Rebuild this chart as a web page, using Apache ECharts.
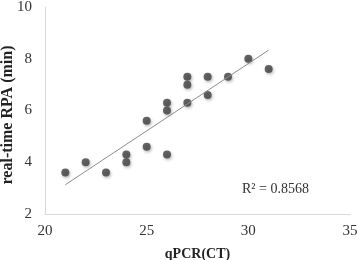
<!DOCTYPE html>
<html><head><meta charset="utf-8">
<script src="https://cdn.jsdelivr.net/npm/echarts@6/dist/echarts.min.js"></script>
<style>html,body{margin:0;padding:0;background:#fff}#c{width:358px;height:260px}</style>
</head><body><div id="c"></div>
<script>
var xValues = [21, 22, 23, 24, 24, 25, 25, 26, 26, 26, 27, 27, 27, 28, 28, 29, 30, 31];
var yValues = [3.6, 4.0, 3.6, 4.3, 4.0, 5.6, 4.6, 6.3, 6.0, 4.3, 7.3, 7.0, 6.3, 7.3, 6.6, 7.3, 8.0, 7.6];
var xTicks = [20, 25, 30, 35];
var yTicks = [2, 4, 6, 8, 10];
var r2Label = 'R² = 0.8568';
var xName = 'qPCR(CT)';
var yName = 'real-time RPA (min)';

var n = xValues.length, mx = 0, my = 0;
for (var i = 0; i < n; i++) { mx += xValues[i]; my += yValues[i]; }
mx /= n; my /= n;
var sxy = 0, sxx = 0;
for (var i = 0; i < n; i++) { sxy += (xValues[i]-mx)*(yValues[i]-my); sxx += (xValues[i]-mx)*(xValues[i]-mx); }
var slope = sxy / sxx, icpt = my - slope * mx;
var xMin = Math.min.apply(null, xValues), xMax = Math.max.apply(null, xValues);
var trend = [[xMin, icpt + slope * xMin], [xMax, icpt + slope * xMax]];
var pts = xValues.map(function (x, i) { return [x, yValues[i]]; });

var serif = '"Liberation Serif", "DejaVu Serif", serif';
var chart = echarts.init(document.getElementById('c'));
chart.setOption({
  animation: false,
  grid: { left: 45, right: 8, top: 7, bottom: 46, containLabel: false, outerBoundsMode: 'none' },
  xAxis: {
    type: 'value', min: 20, max: 35, interval: 5,
    name: xName, nameLocation: 'middle', nameGap: 33, nameMoveOverlap: false,
    nameTextStyle: { fontFamily: serif, fontWeight: 'bold', fontSize: 14, color: '#222' },
    axisLine: { show: true, lineStyle: { color: '#d9d9d9' } },
    axisTick: { show: false },
    splitLine: { show: false },
    axisLabel: { fontFamily: serif, fontSize: 15, color: '#333', margin: 10,
      formatter: function (v) { return xTicks.indexOf(v) >= 0 ? String(v) : ''; } }
  },
  yAxis: {
    type: 'value', min: 2, max: 10, interval: 2,
    axisLine: { show: true, lineStyle: { color: '#d9d9d9' } },
    axisTick: { show: false },
    splitLine: { show: false },
    axisLabel: { fontFamily: serif, fontSize: 15, color: '#333', margin: 13,
      formatter: function (v) { return yTicks.indexOf(v) >= 0 ? String(v) : ''; } }
  },
  series: [
    {
      type: 'line', data: trend, symbol: 'none', silent: true,
      lineStyle: { color: '#8c8c8c', width: 1 }
    },
    {
      type: 'scatter', data: pts, symbolSize: 8,
      itemStyle: { color: '#404040', shadowColor: 'rgba(0,0,0,0.35)', shadowBlur: 3, shadowOffsetX: 1, shadowOffsetY: 1.5 }
    }
  ],
  graphic: [{
    type: 'text', left: 242, top: 182,
    style: { text: r2Label, fontFamily: serif, fontSize: 14, fill: '#333' }
  }, {
    type: 'text', x: 8, y: 115, rotation: Math.PI / 2,
    style: { text: yName, fontFamily: serif, fontWeight: 'bold', fontSize: 16, fill: '#222', align: 'center', verticalAlign: 'middle' }
  }]
});
</script></body></html>
